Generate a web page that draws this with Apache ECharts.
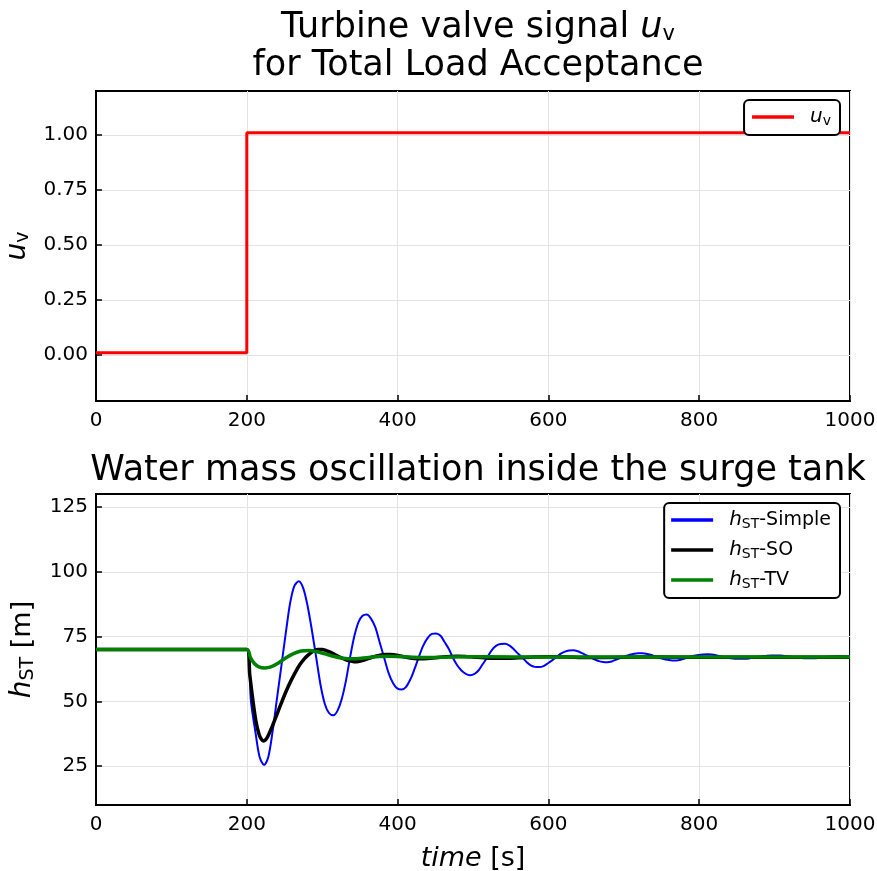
<!DOCTYPE html>
<html>
<head>
<meta charset="utf-8">
<script src="https://cdn.jsdelivr.net/npm/echarts@6/dist/echarts.min.js"></script>
<style>
  html, body { margin: 0; padding: 0; background: #fff; }
  #chart { width: 877px; height: 871px; }
</style>
</head>
<body>
<div id="chart"></div>
<script>
// Turbine valve opening signal (step at t = 200 s)
const valveSignal = [[0, 0.01], [200, 0.01], [200, 1.01], [1000, 1.01]];

// Surge tank water level, simple model
const hSimple = [
  [0, 70], [200, 70], [205.5, 50], [211.5, 38], [217, 28.5], [223, 25.4], [228.5, 28.5],
  [234.5, 39], [240, 51], [246, 64], [252, 77], [257.5, 88], [263, 94.5], [269, 96.3],
  [275, 93.5], [280.5, 87], [286, 78], [292, 67], [298, 56], [303.5, 49], [309, 45.5],
  [315, 44.6], [320.5, 46.5], [326, 51], [331.5, 58], [337, 67], [342.5, 75], [348, 80.5],
  [353.5, 83], [359, 83.5], [364.5, 82], [370.5, 78.5], [376, 73], [382, 67], [388, 61],
  [394, 57], [399.5, 55], [405.4, 54.6], [411, 55.5], [417, 58.5], [422.5, 62.5], [428, 67],
  [434, 71.5], [440, 74.5], [445.5, 76], [451, 76.2], [457, 75.3], [462, 73], [468, 70.2],
  [473, 67], [479, 63.9], [485, 61.8], [490.5, 60.6], [496, 60.1], [502, 60.6], [507.5, 62],
  [513, 64.4], [519, 67], [525, 69.8], [531, 71.5], [536.5, 72.1], [542.4, 72.2],
  [548, 71.6], [553.5, 70.3], [559, 68.6], [565, 67], [571, 65.2], [576.5, 63.9],
  [582, 63.3], [588, 63.2], [593.5, 63.6], [599, 64.6], [605, 65.8], [610.5, 67],
  [616, 68.3], [622, 69.2], [627.5, 69.6], [633, 69.7], [639, 69.3], [644.5, 68.6],
  [650, 67.8], [655.5, 67], [661, 66.2], [667, 65.5], [672.5, 65.2], [678, 65.1],
  [684, 65.4], [690, 66.1], [696, 66.8], [702, 67.4], [708, 68], [713.5, 68.4],
  [719, 68.6], [725, 68.6], [731, 68.3], [736.5, 67.9], [742, 67.3], [747.5, 66.8],
  [753, 66.3], [758.5, 66], [764, 65.8], [770, 65.8], [776, 66.1], [781.5, 66.6],
  [787, 67.1], [793, 67.6], [799, 67.9], [805, 68.1], [811, 68.2], [816.6, 68.1],
  [822, 67.8], [828, 67.4], [833.5, 67], [839, 66.7], [844.5, 66.5], [850, 66.4],
  [861, 66.4], [867, 66.6], [872.5, 66.9], [878, 67.2], [884, 67.4], [890, 67.6],
  [896, 67.7], [907, 67.7], [913, 67.5], [919, 67.3], [924.5, 67.1], [930, 66.9],
  [936, 66.7], [942, 66.6], [953, 66.6], [959, 66.8], [965, 67], [970.5, 67.2],
  [976, 67.3], [982, 67.4], [988, 67.4], [994, 67.3], [1000, 67.2]
];

// Surge tank water level, SO model
const hSO = [
  [0, 70], [200, 70], [204, 60], [208, 50.5], [212, 42.5], [216, 37.5], [219, 35.5],
  [222, 34.7], [225, 35.2], [228, 36.5], [234, 40.5], [240, 45], [246, 49.5], [252, 53.8],
  [258, 57.6], [264, 61], [270, 64], [276, 66.3], [282, 68], [288, 69.3], [294, 70],
  [300, 70], [306, 69.5], [312, 68.8], [318, 67.9], [324, 67], [330, 66.2], [336, 65.6],
  [342, 65.3], [348, 65.4], [354, 65.8], [360, 66.4], [366, 67], [372, 67.5], [378, 67.9],
  [384, 68.1], [390, 68.1], [396, 67.9], [402, 67.6], [408, 67.2], [415, 66.8],
  [422, 66.5], [430, 66.4], [440, 66.5], [450, 66.8], [460, 67.1], [470, 67.3],
  [480, 67.4], [490, 67.3], [500, 67.1], [515, 66.8], [530, 66.6], [545, 66.6],
  [560, 66.8], [580, 67.1], [600, 67.2], [625, 67.1], [650, 66.9], [700, 67.0],
  [750, 67.1], [800, 67.0], [900, 67.0], [1000, 67.0]
];

// Surge tank water level, TV model
const hTV = [
  [0, 70], [200, 70], [205, 66.8], [210, 64.6], [216, 63.3], [224, 62.9], [232, 63.3],
  [242, 64.8], [252, 66.8], [262, 68.4], [272, 69.4], [282, 69.6], [292, 69.2],
  [304, 68.3], [316, 67.3], [328, 66.6], [340, 66.4], [352, 66.6], [364, 67],
  [376, 67.3], [388, 67.4], [400, 67.3], [420, 67], [440, 66.9], [470, 67.1],
  [520, 67.2], [600, 67.1], [700, 67.1], [1000, 67.1]
];

// Tick values
const xTicks = [0, 200, 400, 600, 800, 1000];
const uTicks = [0, 0.25, 0.5, 0.75, 1.0];
const hTicks = [25, 50, 75, 100, 125];

const FONT = 'DejaVu Sans';
const gridColor = '#e3e3e3';

function xAxisCfg(gridIndex, name) {
  return {
    type: 'value', gridIndex: gridIndex, min: 0, max: 1000,
    name: name || '', nameLocation: 'middle', nameGap: 40,
    nameTextStyle: {
      fontFamily: FONT, fontSize: 27, color: '#000',
      rich: { i: { fontFamily: FONT, fontSize: 27, fontStyle: 'italic' },
              n: { fontFamily: FONT, fontSize: 27 } }
    },
    axisLine: { show: true, onZero: false, lineStyle: { color: '#000', width: 2 } },
    axisTick: { show: true, inside: true, length: 6, customValues: xTicks,
                lineStyle: { color: '#000', width: 1.5 } },
    axisLabel: { customValues: xTicks, formatter: v => String(v), fontFamily: FONT,
                 fontSize: 20, color: '#000', margin: 10 },
    splitLine: { show: true, lineStyle: { color: gridColor, width: 1 } }
  };
}

function yAxisCfg(gridIndex, min, max, ticks, fmt, name, nameGap) {
  return {
    type: 'value', gridIndex: gridIndex, min: min, max: max,
    name: name, nameLocation: 'middle', nameRotate: 90, nameGap: nameGap,
    nameMoveOverlap: false,
    nameTextStyle: {
      fontFamily: FONT, fontSize: 27, color: '#000',
      rich: {
        i: { fontFamily: FONT, fontSize: 28, fontStyle: 'italic' },
        s: { fontFamily: FONT, fontSize: 19, padding: [12, 0, 0, 0] },
        n: { fontFamily: FONT, fontSize: 27 }
      }
    },
    axisLine: { show: true, onZero: false, lineStyle: { color: '#000', width: 2 } },
    axisTick: { show: true, inside: true, length: 6, customValues: ticks,
                lineStyle: { color: '#000', width: 1.5 } },
    axisLabel: { customValues: ticks, formatter: fmt, fontFamily: FONT, fontSize: 20,
                 color: '#000', margin: 8 },
    splitLine: { show: true, lineStyle: { color: gridColor, width: 1 } }
  };
}

const legendRich = {
  i: { fontFamily: FONT, fontSize: 20, fontStyle: 'italic', color: '#000', padding: [0, 0, 0, 11] },
  s: { fontFamily: FONT, fontSize: 14, color: '#000', padding: [8, 0, 0, 0] },
  n: { fontFamily: FONT, fontSize: 19, color: '#000' }
};

const chart = echarts.init(document.getElementById('chart'), null, { renderer: 'canvas' });

chart.setOption({
  backgroundColor: '#fff',
  animation: false,
  title: [
    {
      text: '{n|Turbine valve signal }{i|u}{s|v}\n{n|for Total Load Acceptance}',
      left: 473, top: 4, textAlign: 'center',
      textStyle: {
        fontFamily: FONT, fontWeight: 'normal', fontSize: 35, color: '#000', lineHeight: 38,
        rich: {
          n: { fontFamily: FONT, fontSize: 35, color: '#000', lineHeight: 38 },
          i: { fontFamily: FONT, fontSize: 35, fontStyle: 'italic', color: '#000', lineHeight: 38 },
          s: { fontFamily: FONT, fontSize: 21, color: '#000', lineHeight: 38, padding: [14, 0, 0, 0] }
        }
      }
    },
    {
      text: 'Water mass oscillation inside the surge tank',
      left: 473, top: 448, textAlign: 'center',
      textStyle: { fontFamily: FONT, fontWeight: 'normal', fontSize: 35, color: '#000' }
    }
  ],
  grid: [
    { left: 96, top: 91, width: 754, height: 310, show: true, borderColor: '#000', borderWidth: 2,
      outerBoundsMode: 'none', containLabel: false },
    { left: 96, top: 494, width: 754, height: 311, show: true, borderColor: '#000', borderWidth: 2,
      outerBoundsMode: 'none', containLabel: false }
  ],
  xAxis: [xAxisCfg(0), xAxisCfg(1, '{i|time} {n|[s]}')],
  yAxis: [
    yAxisCfg(0, -0.21, 1.2, uTicks, v => v.toFixed(2), '{i|u}{s|v}', 63),
    yAxisCfg(1, 10, 130, hTicks, v => String(v), '{i|h}{s|ST}{n| [m]}', 58)
  ],
  legend: [
    {
      data: ['uv'], right: 37, top: 100, icon: 'rect',
      orient: 'vertical', itemWidth: 42, itemHeight: 3.5, itemGap: 8,
      padding: [7, 9, 7, 8],
      borderColor: '#000', borderWidth: 2, borderRadius: 5, backgroundColor: '#fff',
      formatter: () => '{i|u}{s|v}',
      textStyle: { rich: legendRich }
    },
    {
      data: ['simple', 'so', 'tv'], right: 37, top: 503, icon: 'rect',
      orient: 'vertical', itemWidth: 42, itemHeight: 3.5, itemGap: 9,
      padding: [7, 9, 7, 7],
      borderColor: '#000', borderWidth: 2, borderRadius: 5, backgroundColor: '#fff',
      formatter: name => ({
        simple: '{i|h}{s|ST}{n|-Simple}',
        so: '{i|h}{s|ST}{n|-SO}',
        tv: '{i|h}{s|ST}{n|-TV}'
      })[name],
      textStyle: { rich: legendRich }
    }
  ],
  series: [
    {
      name: 'uv', type: 'line', xAxisIndex: 0, yAxisIndex: 0, data: valveSignal,
      showSymbol: false, symbol: 'none', lineStyle: { color: '#ff0000', width: 3 },
      itemStyle: { color: '#ff0000' }
    },
    {
      name: 'simple', type: 'line', xAxisIndex: 1, yAxisIndex: 1, data: hSimple,
      showSymbol: false, symbol: 'none', smooth: 0.3,
      lineStyle: { color: '#0000ff', width: 2 }, itemStyle: { color: '#0000ff' }
    },
    {
      name: 'so', type: 'line', xAxisIndex: 1, yAxisIndex: 1, data: hSO,
      showSymbol: false, symbol: 'none', smooth: 0.3,
      lineStyle: { color: '#000000', width: 3.5 }, itemStyle: { color: '#000000' }
    },
    {
      name: 'tv', type: 'line', xAxisIndex: 1, yAxisIndex: 1, data: hTV,
      showSymbol: false, symbol: 'none', smooth: 0.3,
      lineStyle: { color: '#008000', width: 3.5 }, itemStyle: { color: '#008000' }
    }
  ]
});
</script>
</body>
</html>
